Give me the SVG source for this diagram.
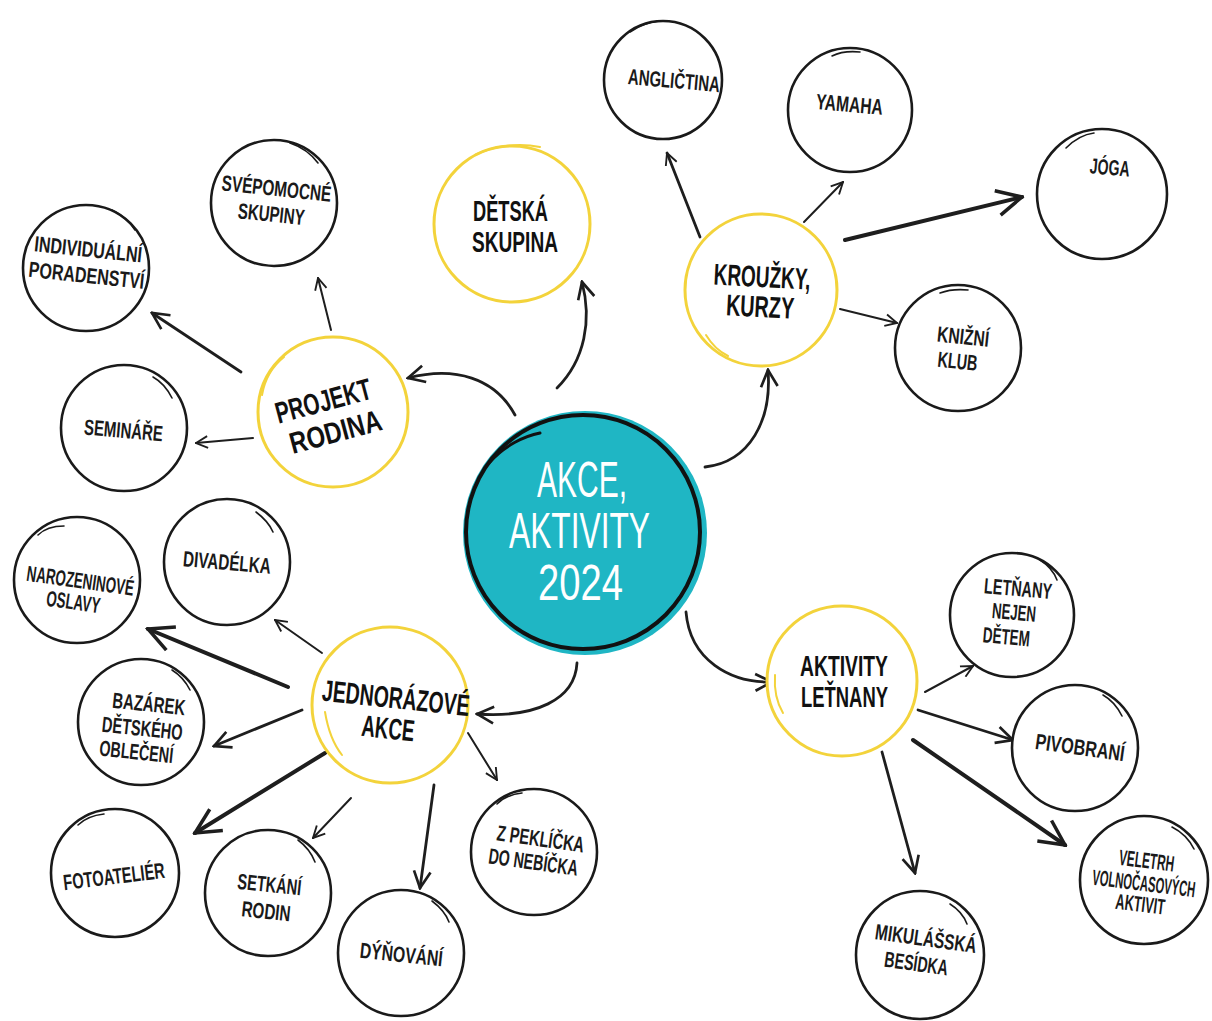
<svg xmlns="http://www.w3.org/2000/svg" width="1212" height="1021" viewBox="0 0 1212 1021">
<style>
.bg{fill:#ffffff}
.bc{fill:#ffffff;stroke:#1a1a1a;stroke-width:2.6}
.bs{fill:none;stroke:#1a1a1a;stroke-width:1.6;stroke-linecap:round}
.yc{fill:#ffffff;stroke:#f3d33b;stroke-width:3}
.ys{fill:none;stroke:#f3d33b;stroke-width:2;stroke-linecap:round}
.t{font-family:"Liberation Sans",Arial,sans-serif;font-size:22px;font-weight:bold;fill:#1a1a1a}
.ty{font-family:"Liberation Sans",Arial,sans-serif;font-size:30px;font-weight:bold;fill:#111111}
.tw{font-family:"Liberation Sans",Arial,sans-serif;font-size:50px;fill:#ffffff}
.c{fill:none;stroke:#1e1e1e;stroke-width:2;stroke-linecap:round}
.c2{fill:none;stroke:#1e1e1e;stroke-width:2.8;stroke-linecap:round}
.c3{fill:none;stroke:#1e1e1e;stroke-width:4;stroke-linecap:round}
</style>
<defs>
<marker id="as" viewBox="0 0 12 12" refX="11" refY="6" markerWidth="14" markerHeight="14" markerUnits="userSpaceOnUse" orient="auto"><path d="M1,1 L11,6 L1,11" fill="none" stroke="#1e1e1e" stroke-width="1.6"/></marker>
<marker id="am" viewBox="0 0 12 12" refX="11" refY="6" markerWidth="20" markerHeight="20" markerUnits="userSpaceOnUse" orient="auto"><path d="M1,1 L11,6 L1,11" fill="none" stroke="#1e1e1e" stroke-width="1.6"/></marker>
<marker id="al" viewBox="0 0 12 12" refX="11" refY="6" markerWidth="30" markerHeight="30" markerUnits="userSpaceOnUse" orient="auto"><path d="M1,1 L11,6 L1,11" fill="none" stroke="#1e1e1e" stroke-width="1.4"/></marker>
</defs>
<rect class="bg" x="0" y="0" width="1212" height="1021"/>

<g id="connectors">
<path class="c2" d="M557,388 C585,360 592,320 582,282" marker-end="url(#am)"/>
<path class="c2" d="M515,415 C495,378 455,366 408,378" marker-end="url(#am)"/>
<path class="c2" d="M705,467 C750,462 772,420 768,370" marker-end="url(#am)"/>
<path class="c2" d="M686,612 C690,660 730,683 772,682" marker-end="url(#am)"/>
<path class="c2" d="M577,663 C575,700 535,718 477,714" marker-end="url(#am)"/>

<line class="c" x1="331" y1="330" x2="318" y2="278" marker-end="url(#as)"/>
<line class="c2" x1="241" y1="372" x2="152" y2="313" marker-end="url(#am)"/>
<line class="c" x1="253" y1="438" x2="196" y2="443" marker-end="url(#as)"/>

<line class="c2" x1="700" y1="237" x2="667" y2="153" marker-end="url(#as)"/>
<line class="c" x1="804" y1="222" x2="843" y2="182" marker-end="url(#as)"/>
<line class="c3" x1="845" y1="240" x2="1022" y2="197" marker-end="url(#al)"/>
<line class="c" x1="840" y1="309" x2="897" y2="323" marker-end="url(#as)"/>

<line class="c" x1="322" y1="653" x2="275" y2="620" marker-end="url(#as)"/>
<line class="c3" x1="288" y1="687" x2="148" y2="629" marker-end="url(#al)"/>
<line class="c2" x1="302" y1="710" x2="214" y2="746" marker-end="url(#am)"/>
<line class="c3" x1="325" y1="753" x2="195" y2="833" marker-end="url(#al)"/>
<line class="c" x1="351" y1="798" x2="313" y2="838" marker-end="url(#as)"/>
<line class="c2" x1="434" y1="785" x2="420" y2="888" marker-end="url(#am)"/>
<line class="c" x1="468" y1="733" x2="497" y2="780" marker-end="url(#as)"/>

<line class="c" x1="925" y1="692" x2="973" y2="666" marker-end="url(#as)"/>
<line class="c2" x1="918" y1="710" x2="1013" y2="740" marker-end="url(#am)"/>
<line class="c3" x1="913" y1="740" x2="1065" y2="845" marker-end="url(#al)"/>
<line class="c2" x1="882" y1="752" x2="915" y2="873" marker-end="url(#am)"/>
</g>

<g id="center">
<circle cx="585" cy="533" r="122" fill="#1fb6c4"/>
<circle cx="583" cy="532" r="117" fill="none" stroke="#111" stroke-width="4"/>
<path d="M490,462 C505,445 525,436 540,433" fill="none" stroke="#111" stroke-width="3" stroke-linecap="round"/>
<text class="tw" x="537" y="497" textLength="90" lengthAdjust="spacingAndGlyphs">AKCE,</text>
<text class="tw" x="509" y="548" textLength="141" lengthAdjust="spacingAndGlyphs">AKTIVITY</text>
<text class="tw" x="538" y="600" textLength="85" lengthAdjust="spacingAndGlyphs">2024</text>
</g>

<g id="detska">
<circle class="yc" cx="512" cy="224" r="78"/>
<path class="ys" d="M475,155 C495,145 520,143 540,147"/>
<text class="ty" x="473" y="221" textLength="75" lengthAdjust="spacingAndGlyphs">DĚTSKÁ</text>
<text class="ty" x="472" y="252" textLength="86" lengthAdjust="spacingAndGlyphs">SKUPINA</text>
</g>

<g id="krouzky">
<circle class="yc" cx="761" cy="290" r="76"/>
<path class="ys" d="M706,335 C712,345 720,352 728,356"/>
<g transform="rotate(3 761 290)">
<text class="ty" x="713" y="287" textLength="97" lengthAdjust="spacingAndGlyphs">KROUŽKY,</text>
<text class="ty" x="727" y="317" textLength="68" lengthAdjust="spacingAndGlyphs">KURZY</text>
</g>
</g>

<g id="projekt">
<circle class="yc" cx="333" cy="412" r="75"/>
<path class="ys" d="M262,395 C265,378 274,365 284,357"/>
<g transform="rotate(-15 330 415)">
<text class="ty" x="278" y="410" textLength="98" lengthAdjust="spacingAndGlyphs">PROJEKT</text>
<text class="ty" x="284" y="443" textLength="94" lengthAdjust="spacingAndGlyphs">RODINA</text>
</g>
</g>

<g id="jednorazove">
<circle class="yc" cx="390" cy="705" r="78"/>
<path class="ys" d="M325,712 C328,730 334,745 342,755"/>
<g transform="rotate(6 392 715)">
<text class="ty" x="320" y="708" textLength="148" lengthAdjust="spacingAndGlyphs">JEDNORÁZOVÉ</text>
<text class="ty" x="363" y="739" textLength="53" lengthAdjust="spacingAndGlyphs">AKCE</text>
</g>
</g>

<g id="aktivity">
<circle class="yc" cx="842" cy="681" r="75"/>
<path class="ys" d="M775,675 C774,690 777,703 783,713"/>
<text class="ty" x="800" y="676" textLength="88" lengthAdjust="spacingAndGlyphs">AKTIVITY</text>
<text class="ty" x="801" y="707" textLength="87" lengthAdjust="spacingAndGlyphs">LEŤNANY</text>
</g>

<g id="anglictina">
<circle class="bc" cx="663" cy="80" r="59"/>
<path class="bs" d="M630,32 C640,25 650,22 660,21"/>
<text class="t" x="628" y="88" transform="rotate(5 673 80)" textLength="92" lengthAdjust="spacingAndGlyphs">ANGLIČTINA</text>
</g>

<g id="yamaha">
<circle class="bc" cx="850" cy="110" r="62"/>
<path class="bs" d="M832,56 C840,52 850,51 860,52"/>
<text class="t" x="816" y="112" transform="rotate(5 850 104)" textLength="67" lengthAdjust="spacingAndGlyphs">YAMAHA</text>
</g>

<g id="joga">
<circle class="bc" cx="1102" cy="194" r="65"/>
<path class="bs" d="M1066,148 C1076,138 1086,134 1094,133"/>
<text class="t" x="1090" y="175" transform="rotate(5 1110 166)" textLength="40" lengthAdjust="spacingAndGlyphs">JÓGA</text>
</g>

<g id="knizni">
<circle class="bc" cx="958" cy="348" r="63"/>
<path class="bs" d="M940,293 C948,290 958,289 968,290"/>
<g transform="rotate(6 960 348)">
<text class="t" x="936" y="344" textLength="52" lengthAdjust="spacingAndGlyphs">KNIŽNÍ</text>
<text class="t" x="939" y="369" textLength="40" lengthAdjust="spacingAndGlyphs">KLUB</text>
</g>
</g>

<g id="svepomocne">
<circle class="bc" cx="274" cy="203" r="63"/>
<path class="bs" d="M290,143 C302,147 312,155 318,163"/>
<g transform="rotate(6 275 203)">
<text class="t" x="220" y="196" textLength="110" lengthAdjust="spacingAndGlyphs">SVÉPOMOCNÉ</text>
<text class="t" x="239" y="222" textLength="67" lengthAdjust="spacingAndGlyphs">SKUPINY</text>
</g>
</g>

<g id="individualni">
<circle class="bc" cx="86" cy="268" r="63"/>
<path class="bs" d="M112,210 C122,215 130,222 135,230"/>
<g transform="rotate(6 88 262)">
<text class="t" x="33" y="257" textLength="108" lengthAdjust="spacingAndGlyphs">INDIVIDUÁLNÍ</text>
<text class="t" x="30" y="283" textLength="116" lengthAdjust="spacingAndGlyphs">PORADENSTVÍ</text>
</g>
</g>

<g id="seminare">
<circle class="bc" cx="124" cy="428" r="63"/>
<path class="bs" d="M153,377 C162,382 168,390 172,398"/>
<text class="t" x="84" y="438" transform="rotate(5 124 430)" textLength="79" lengthAdjust="spacingAndGlyphs">SEMINÁŘE</text>
</g>

<g id="narozeninove">
<circle class="bc" cx="77" cy="580" r="63"/>
<path class="bs" d="M38,535 C45,528 55,526 64,526"/>
<g transform="rotate(8 78 590)">
<text class="t" x="25" y="588" textLength="108" lengthAdjust="spacingAndGlyphs">NAROZENINOVÉ</text>
<text class="t" x="48" y="610" textLength="54" lengthAdjust="spacingAndGlyphs">OSLAVY</text>
</g>
</g>

<g id="divadelka">
<circle class="bc" cx="227" cy="562" r="63"/>
<path class="bs" d="M256,512 C264,518 270,525 273,532"/>
<text class="t" x="183" y="570" transform="rotate(5 227 562)" textLength="88" lengthAdjust="spacingAndGlyphs">DIVADÉLKA</text>
</g>

<g id="bazarek">
<circle class="bc" cx="141" cy="722" r="63"/>
<path class="bs" d="M172,670 C180,675 186,682 190,690"/>
<g transform="rotate(6 143 727)">
<text class="t" x="110" y="711" textLength="73" lengthAdjust="spacingAndGlyphs">BAZÁREK</text>
<text class="t" x="102" y="736" textLength="81" lengthAdjust="spacingAndGlyphs">DĚTSKÉHO</text>
<text class="t" x="102" y="760" textLength="74" lengthAdjust="spacingAndGlyphs">OBLEČENÍ</text>
</g>
</g>

<g id="fotoatelier">
<circle class="bc" cx="115" cy="873" r="64"/>
<path class="bs" d="M78,825 C85,818 95,815 104,814"/>
<text class="t" x="63" y="884" transform="rotate(-7 114 876)" textLength="102" lengthAdjust="spacingAndGlyphs">FOTOATELIÉR</text>
</g>

<g id="setkani">
<circle class="bc" cx="268" cy="893" r="63"/>
<path class="bs" d="M298,840 C306,846 312,854 315,862"/>
<g transform="rotate(6 268 898)">
<text class="t" x="236" y="892" textLength="64" lengthAdjust="spacingAndGlyphs">SETKÁNÍ</text>
<text class="t" x="243" y="919" textLength="49" lengthAdjust="spacingAndGlyphs">RODIN</text>
</g>
</g>

<g id="dynovani">
<circle class="bc" cx="401" cy="953" r="63"/>
<path class="bs" d="M432,901 C440,907 446,914 449,922"/>
<text class="t" x="360" y="962" transform="rotate(6 401 953)" textLength="83" lengthAdjust="spacingAndGlyphs">DÝŇOVÁNÍ</text>
</g>

<g id="peklicka">
<circle class="bc" cx="534" cy="852" r="63"/>
<path class="bs" d="M497,804 C504,797 512,794 522,793"/>
<g transform="rotate(8 537 850)">
<text class="t" x="495" y="846" textLength="88" lengthAdjust="spacingAndGlyphs">Z PEKLÍČKA</text>
<text class="t" x="490" y="870" textLength="90" lengthAdjust="spacingAndGlyphs">DO NEBÍČKA</text>
</g>
</g>

<g id="letnany">
<circle class="bc" cx="1012" cy="615" r="62"/>
<path class="bs" d="M1040,560 C1048,565 1054,572 1057,580"/>
<g transform="rotate(5 1015 613)">
<text class="t" x="982" y="596" textLength="68" lengthAdjust="spacingAndGlyphs">LETŇANY</text>
<text class="t" x="992" y="620" textLength="44" lengthAdjust="spacingAndGlyphs">NEJEN</text>
<text class="t" x="985" y="645" textLength="47" lengthAdjust="spacingAndGlyphs">DĚTEM</text>
</g>
</g>

<g id="pivobrani">
<circle class="bc" cx="1075" cy="748" r="63"/>
<path class="bs" d="M1103,695 C1112,700 1118,708 1122,716"/>
<text class="t" x="1035" y="755" transform="rotate(8 1080 748)" textLength="90" lengthAdjust="spacingAndGlyphs">PIVOBRANÍ</text>
</g>

<g id="veletrh">
<circle class="bc" cx="1144" cy="880" r="64"/>
<path class="bs" d="M1172,827 C1182,832 1190,841 1194,849"/>
<g transform="rotate(7 1144 882)">
<text class="t" text-anchor="middle" transform="translate(1144 868) scale(0.54 1)">VELETRH</text>
<text class="t" text-anchor="middle" transform="translate(1144 891) scale(0.51 1)">VOLNOČASOVÝCH</text>
<text class="t" text-anchor="middle" transform="translate(1143 912) scale(0.58 1)">AKTIVIT</text>
</g>
</g>

<g id="mikulasska">
<circle class="bc" cx="920" cy="955" r="64"/>
<path class="bs" d="M950,904 C958,909 964,916 967,924"/>
<g transform="rotate(8 924 952)">
<text class="t" x="873" y="946" textLength="102" lengthAdjust="spacingAndGlyphs">MIKULÁŠSKÁ</text>
<text class="t" x="886" y="972" textLength="64" lengthAdjust="spacingAndGlyphs">BESÍDKA</text>
</g>
</g>
</svg>
